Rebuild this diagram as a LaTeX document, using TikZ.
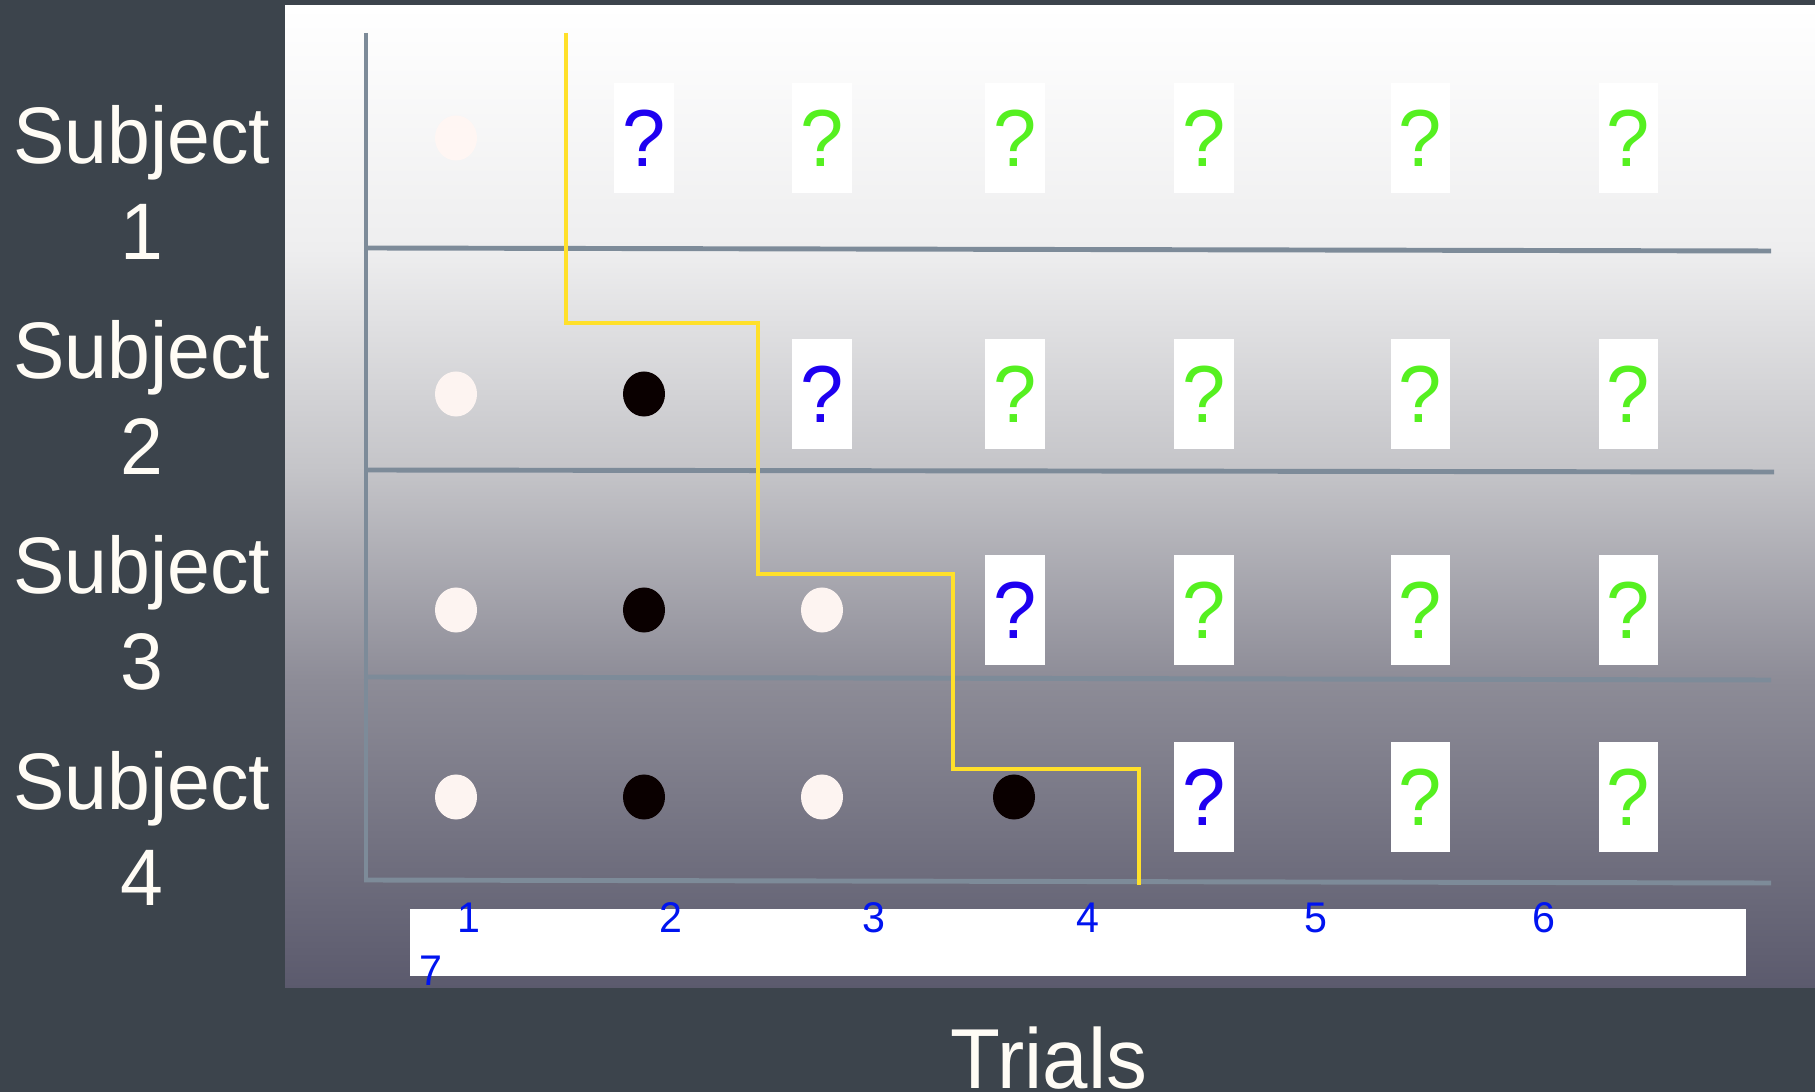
\documentclass[tikz,border=0pt]{standalone}
\usepackage{fontspec}
\setmainfont[FakeStretch=0.96]{Liberation Sans}
\usetikzlibrary{shapes.geometric}

\definecolor{slate}{RGB}{60,68,76}
\definecolor{shadeA}{RGB}{238,238,239}
\definecolor{shadeB}{RGB}{196,196,200}
\definecolor{shadeC}{RGB}{141,140,151}
\definecolor{shadeD}{RGB}{91,90,109}
\definecolor{gridgray}{RGB}{125,139,153}
\definecolor{pathyellow}{RGB}{255,224,42}
\definecolor{qblue}{RGB}{30,0,240}
\definecolor{qgreen}{RGB}{85,240,32}
\definecolor{numblue}{RGB}{0,20,240}
\definecolor{chalk}{RGB}{255,252,245}
\definecolor{dotwhite}{RGB}{253,244,241}
\definecolor{dotfaint}{RGB}{255,246,243}
\definecolor{dotblack}{RGB}{10,0,0}

\begin{document}
\begin{tikzpicture}[
    x=0.01cm, y=-0.01cm, % one unit = one pixel of the slide
    gridline/.style={draw=gridgray, line width=1.4pt},
    subject/.style={align=center, anchor=north, inner sep=0pt, text=chalk,
      font=\fontsize{22.8}{27.2}\selectfont},
    qbox/.style={fill=white, minimum width=0.59cm, minimum height=1.10cm,
      inner sep=0pt, font=\fontsize{23}{23}\selectfont},
    newq/.style={qbox, text=qblue},
    laterq/.style={qbox, text=qgreen},
    dot/.style={ellipse, minimum width=0.42cm, minimum height=0.45cm, inner sep=0pt},
    trialnum/.style={anchor=base, inner sep=0pt, text=numblue,
      font=\fontsize{12.2}{14}\selectfont}
]
  \useasboundingbox (0,0) rectangle (1815,1092);

  % Slide background and shaded panel
  \fill[slate] (0,0) rectangle (1815,1092);
  \shade[top color=white, bottom color=shadeA] (285,6) rectangle (1815,249);
  \shade[top color=shadeA, bottom color=shadeB] (285,249) rectangle (1815,471);
  \shade[top color=shadeB, bottom color=shadeC] (285,471) rectangle (1815,680);
  \shade[top color=shadeC, bottom color=shadeD] (285,680) rectangle (1815,988);

  % Axes and row separators
  \draw[gridline] (366,33) -- (366,882);
  \draw[gridline] (364,248) -- (1771,251);
  \draw[gridline] (364,470) -- (1774,472);
  \draw[gridline] (364,677) -- (1771,680);
  \draw[gridline] (364,880) -- (1771,883);

  % Subject labels
  \node[subject] (subj1) at (142,105) {Subject\\1};
  \node[subject] (subj2) at (142,320) {Subject\\2};
  \node[subject] (subj3) at (142,535) {Subject\\3};
  \node[subject] (subj4) at (142,751) {Subject\\4};

  % Subject 1
  \node[dot, fill=dotfaint] (c11) at (456,138) {};
  \node[newq] (c12) at (644,138) {?};
  \node[laterq] (c13) at (822,138) {?};
  \node[laterq] (c14) at (1015,138) {?};
  \node[laterq] (c15) at (1204,138) {?};
  \node[laterq] (c16) at (1420,138) {?};
  \node[laterq] (c17) at (1628,138) {?};

  % Subject 2
  \node[dot, fill=dotwhite] (c21) at (456,394) {};
  \node[dot, fill=dotblack] (c22) at (644,394) {};
  \node[newq] (c23) at (822,394) {?};
  \node[laterq] (c24) at (1015,394) {?};
  \node[laterq] (c25) at (1204,394) {?};
  \node[laterq] (c26) at (1420,394) {?};
  \node[laterq] (c27) at (1628,394) {?};

  % Subject 3
  \node[dot, fill=dotwhite] (c31) at (456,610) {};
  \node[dot, fill=dotblack] (c32) at (644,610) {};
  \node[dot, fill=dotwhite] (c33) at (822,610) {};
  \node[newq] (c34) at (1015,610) {?};
  \node[laterq] (c35) at (1204,610) {?};
  \node[laterq] (c36) at (1420,610) {?};
  \node[laterq] (c37) at (1628,610) {?};

  % Subject 4
  \node[dot, fill=dotwhite] (c41) at (456,797) {};
  \node[dot, fill=dotblack] (c42) at (644,797) {};
  \node[dot, fill=dotwhite] (c43) at (822,797) {};
  \node[dot, fill=dotblack] (c44) at (1014,797) {};
  \node[newq] (c45) at (1204,797) {?};
  \node[laterq] (c46) at (1420,797) {?};
  \node[laterq] (c47) at (1628,797) {?};

  % Staircase
  \draw[pathyellow, line width=1.2pt]
    (566,33) -- (566,323) -- (758,323) -- (758,574) -- (953,574)
    -- (953,769) -- (1139,769) -- (1139,885);

  % Trial numbers
  \fill[white] (410,909) rectangle (1746,976);
  \node[trialnum] (t1) at (469,933) {1};
  \node[trialnum] (t2) at (671,933) {2};
  \node[trialnum] (t3) at (874,933) {3};
  \node[trialnum] (t4) at (1088,933) {4};
  \node[trialnum] (t5) at (1316,933) {5};
  \node[trialnum] (t6) at (1544,933) {6};
  \node[trialnum] (t7) at (431,986) {7};

  \node[anchor=base, inner sep=0pt, text=chalk, font=\fontsize{24.2}{29}\selectfont]
    (trials) at (1049,1089) {Trials};
\end{tikzpicture}
\end{document}
